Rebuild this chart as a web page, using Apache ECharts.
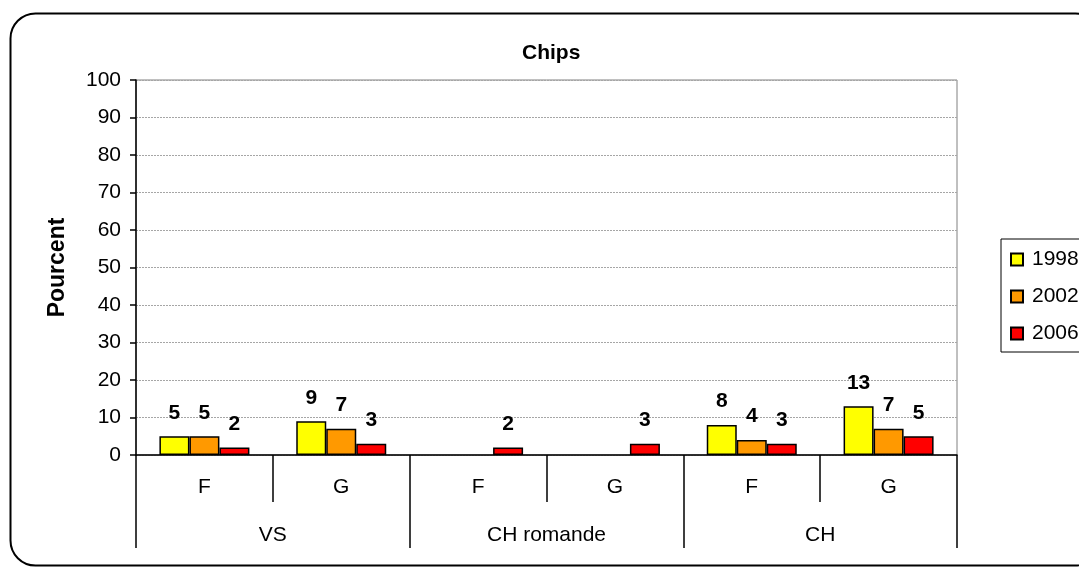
<!DOCTYPE html>
<html>
<head>
<meta charset="utf-8">
<script src="https://cdn.jsdelivr.net/npm/echarts@6/dist/echarts.min.js"></script>
<style>html,body{margin:0;padding:0;background:#fff;}#c{width:1079px;height:567px;}</style>
</head>
<body>
<div id="c"></div>
<script>
const subCategories = ['F', 'G', 'F', 'G', 'F', 'G'];
const groupCategories = ['VS', 'CH romande', 'CH'];
const seriesNames = ['1998', '2002', '2006'];
const values1998 = [5, 9, null, null, 8, 13];
const values2002 = [5, 7, null, null, 4, 7];
const values2006 = [2, 3, 2, 3, 3, 5];
const yTicks = [0, 10, 20, 30, 40, 50, 60, 70, 80, 90, 100];
const colors = ['#FFFF00', '#FF9900', '#FF0000'];

const FONT = 'Liberation Sans, Arial, sans-serif';
const FS = 21;
const chart = echarts.init(document.getElementById('c'));
const allValues = [values1998, values2002, values2006];

chart.setOption({
  animation: false,
  backgroundColor: '#fff',
  textStyle: { fontFamily: FONT },
  title: {
    text: 'Chips',
    left: 517, top: 38,
    textStyle: { fontFamily: FONT, fontSize: FS, fontWeight: 'bold', color: '#000' }
  },
  graphic: [{
    type: 'rect',
    shape: { x: 10.5, y: 13.5, width: 1090, height: 552, r: 25 },
    style: { fill: 'none', stroke: '#000', lineWidth: 2 },
    silent: true, z: 100
  }],
  legend: {
    orient: 'vertical',
    left: 1001, top: 239,
    padding: [10, 30, 8, 9],
    itemWidth: 12, itemHeight: 12,
    itemGap: 16,
    borderColor: '#000', borderWidth: 1,
    icon: 'rect',
    data: seriesNames,
    textStyle: { fontFamily: FONT, fontSize: FS, color: '#000', padding: [0, 0, 0, 4] }
  },
  grid: {
    left: 136, right: 122, top: 80, bottom: 112,
    show: true, borderColor: '#808080', borderWidth: 1, backgroundColor: 'transparent'
  },
  xAxis: [{
    type: 'category',
    data: subCategories,
    position: 'bottom',
    axisLine: { show: true, lineStyle: { color: '#000', width: 1.5 } },
    axisTick: { show: true, interval: 0, length: 47, lineStyle: { color: '#000', width: 1.5 } },
    axisLabel: { margin: 22, fontSize: FS, color: '#000', fontFamily: FONT }
  }, {
    type: 'category',
    data: groupCategories,
    position: 'bottom',
    axisLine: { show: false },
    axisTick: { show: true, interval: 0, length: 93, lineStyle: { color: '#000', width: 1.5 } },
    axisLabel: { margin: 70, fontSize: FS, color: '#000', fontFamily: FONT }
  }],
  yAxis: {
    type: 'value',
    min: yTicks[0], max: yTicks[yTicks.length - 1], interval: 10,
    name: 'Pourcent',
    nameLocation: 'middle',
    nameRotate: 90,
    nameGap: 67,
    nameTextStyle: { fontFamily: FONT, fontSize: 23, fontWeight: 'bold', color: '#000' },
    axisLine: { show: true, lineStyle: { color: '#000', width: 1.5 } },
    axisTick: { show: true, length: 6, lineStyle: { color: '#000', width: 1.5 } },
    axisLabel: { margin: 15, fontSize: FS, color: '#000', fontFamily: FONT },
    splitLine: { show: true, lineStyle: { color: '#a6a6a6', width: 1, type: [2, 1] } }
  },
  series: seriesNames.map((name, i) => ({
    name: name,
    type: 'bar',
    xAxisIndex: 0,
    data: allValues[i],
    barWidth: 30,
    barGap: '0%',
    itemStyle: { color: colors[i], borderColor: '#000', borderWidth: 1.5 },
    label: {
      show: true, position: 'top', distance: 13,
      fontFamily: FONT, fontSize: FS, fontWeight: 'bold', color: '#000'
    }
  }))
});
</script>
</body>
</html>
